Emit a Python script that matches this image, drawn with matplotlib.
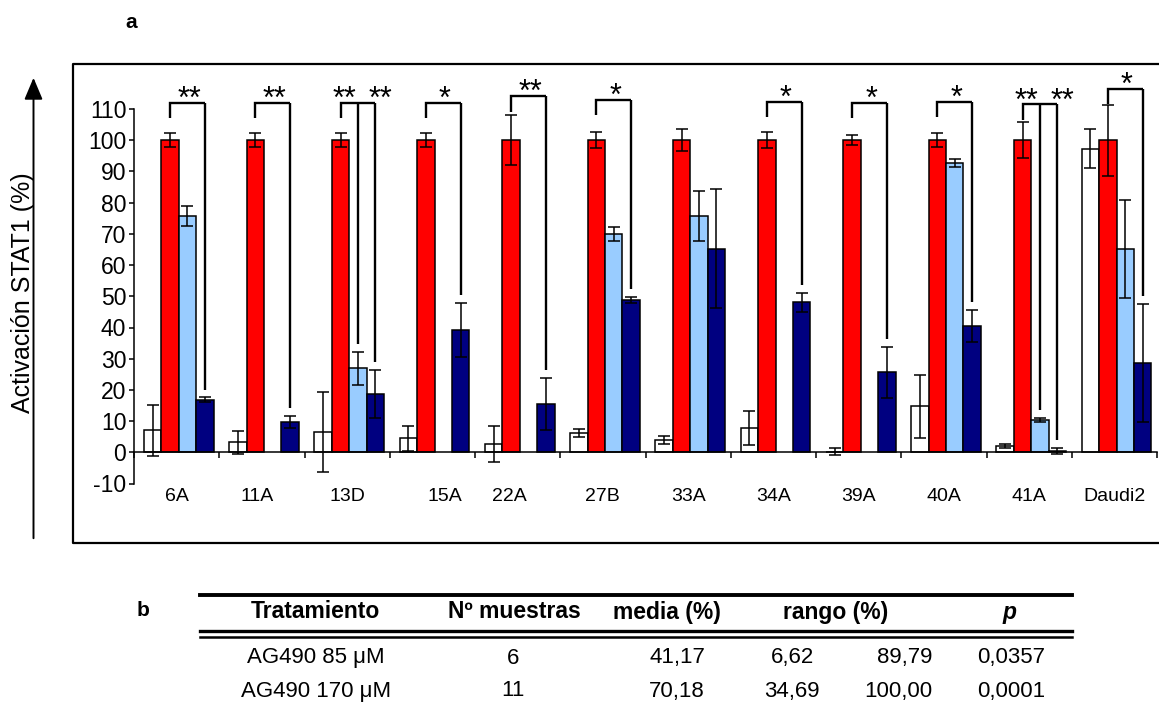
import matplotlib
matplotlib.use('Agg')
import matplotlib.pyplot as plt
import numpy as np
from matplotlib.lines import Line2D
from matplotlib.patches import FancyArrowPatch
from matplotlib import font_manager

plt.rcParams['font.family'] = ['Liberation Sans', 'DejaVu Sans']
plt.rcParams['axes.unicode_minus'] = False

_installed = {f.name for f in font_manager.fontManager.ttflist}
NARROW = 'Liberation Sans Narrow' if 'Liberation Sans Narrow' in _installed else None

# ---------------- data ----------------
categories = ['6A', '11A', '13D', '15A', '22A', '27B', '33A', '34A', '39A', '40A', '41A', 'Daudi2']
control = [7.0, 3.2, 6.5, 4.5, 2.6, 6.3, 4.0, 7.7, 0.2, 14.7, 2.0, 97.3]
control_err = [8.3, 3.6, 12.8, 4.0, 5.8, 1.3, 1.3, 5.5, 1.1, 10.0, 0.6, 6.2]
ifn = [100, 100, 100, 100, 100, 100, 100, 100, 100, 100, 100, 100]
ifn_err = [2.3, 2.3, 2.3, 2.3, 8.0, 2.5, 3.5, 2.5, 1.6, 2.3, 5.8, 11.4]
ag85 = [75.7, None, 26.9, None, None, 69.9, 75.7, None, None, 92.8, 10.4, 65.2]
ag85_err = [3.1, None, 5.4, None, None, 2.2, 8.0, None, None, 1.3, 0.7, 15.8]
ag170 = [16.8, 9.8, 18.7, 39.2, 15.5, 48.8, 65.3, 48.1, 25.6, 40.4, 0.4, 28.7]
ag170_err = [0.8, 1.9, 7.6, 8.6, 8.3, 0.9, 19.2, 3.0, 8.1, 5.2, 0.9, 18.9]

# significance brackets: (group index, target series list, bracket height, label)
brackets = [
    (0, [3], 112.0, '**'),
    (1, [3], 112.0, '**'),
    (2, [2, 3], 112.0, '**'),
    (3, [3], 112.0, '*'),
    (4, [3], 114.2, '**'),
    (5, [3], 113.0, '*'),
    (7, [3], 112.4, '*'),
    (8, [3], 112.0, '*'),
    (9, [3], 112.4, '*'),
    (10, [2, 3], 111.5, '**'),
    (11, [3], 116.5, '*'),
]

table_header = ['Tratamiento', 'Nº muestras', 'media (%)', 'rango (%)', 'p']
table_rows = [
    ['AG490 85 μM', '6', '41,17', '6,62', '89,79', '0,0357'],
    ['AG490 170 μM', '11', '70,18', '34,69', '100,00', '0,0001'],
]

series = [(control, control_err), (ifn, ifn_err), (ag85, ag85_err), (ag170, ag170_err)]
colors = ['white', '#FF0000', '#99CCFF', '#000080']

# ---------------- figure ----------------
W, H = 1159, 708
fig = plt.figure(figsize=(W / 100, H / 100), dpi=100)

def fx(x):
    return x / W

def fy(y):
    return 1 - y / H

ax = fig.add_axes([fx(134), fy(483.5), fx(1157) - fx(134), fy(77.9) - fy(483.5)])
ax.set_xlim(-0.5, len(categories) - 0.5)
ax.set_ylim(-10, 120)

w = 0.205
shift = 0.025
ngroups = len(categories)

def bar_x(i, k):
    return i + shift + (k - 1.5) * w

for k, (vals, errs) in enumerate(series):
    xs, ys, es = [], [], []
    for i in range(ngroups):
        if vals[i] is None:
            continue
        xs.append(bar_x(i, k))
        ys.append(vals[i])
        es.append(errs[i])
    ax.bar(xs, ys, width=w, color=colors[k], edgecolor='black', linewidth=1.1, zorder=2)
    ax.errorbar(xs, ys, yerr=es, fmt='none', ecolor='black', elinewidth=1.1,
                capsize=4.5, capthick=1.1, zorder=3)

def err_top(i, k):
    vals, errs = series[k]
    return vals[i] + errs[i]

lw_b = 1.7
star_fs = 22
star_dy = -1.6
for (i, targets, by, lab) in brackets:
    xl = bar_x(i, 1)
    xr = bar_x(i, targets[-1])
    ax.plot([xl, xl, xr], [by - 5, by, by], color='black', lw=lw_b, zorder=4,
            solid_joinstyle='miter', solid_capstyle='butt', clip_on=False)
    for t in targets:
        xt = bar_x(i, t)
        ax.plot([xt, xt], [by, err_top(i, t) + 2.5], color='black', lw=lw_b, zorder=4,
                solid_capstyle='butt', clip_on=False)
    if len(targets) == 1:
        ax.text((xl + xr) / 2 + 0.02, by + star_dy, lab, ha='center', va='baseline', fontsize=star_fs)
    else:
        ax.text(xl + 0.2 * w, by + star_dy, lab, ha='center', va='baseline', fontsize=star_fs)
        ax.text(xr + 0.3 * w, by + star_dy, lab, ha='center', va='baseline', fontsize=star_fs)

# axes styling
for s in ['top', 'right']:
    ax.spines[s].set_visible(False)
ax.spines['left'].set_bounds(-10, 110)
ax.spines['left'].set_linewidth(1.1)
ax.spines['bottom'].set_position(('data', 0))
ax.spines['bottom'].set_linewidth(1.1)
ax.set_yticks(np.arange(-10, 111, 10))
ax.tick_params(axis='y', direction='out', length=3.5, width=1.1, pad=2)
for lbl in ax.get_yticklabels():
    if NARROW:
        lbl.set_fontfamily([NARROW, 'Liberation Sans'])
        lbl.set_fontsize(17.5)
    else:
        lbl.set_fontsize(16.5)
ax.set_xticks(np.arange(ngroups + 1) - 0.5)
ax.set_xticklabels([])
ax.tick_params(axis='x', direction='out', length=4.5, width=1.1)
label_nudge = {3: 0.15, 4: -0.1, 1: -0.05}
for i, c in enumerate(categories):
    ax.text(i + label_nudge.get(i, 0.0), -14.3, c, ha='center', va='center', fontsize=14)

# outer frame
frame = Line2D([fx(1162), fx(73), fx(73), fx(1162)], [fy(64), fy(64), fy(543), fy(543)],
               transform=fig.transFigure, color='black', lw=1.6)
fig.add_artist(frame)

# y axis arrow and label
arr = FancyArrowPatch((fx(33.5), fy(541)), (fx(33.5), fy(75)), transform=fig.transFigure,
                      arrowstyle='-|>,head_length=0.95,head_width=0.4', mutation_scale=14,
                      color='black', lw=1.4)
fig.add_artist(arr)
fig.text(fx(23), fy(293), 'Activación STAT1 (%)', rotation=90, ha='center', va='center',
         fontsize=18)

fig.text(fx(131), fy(22), 'a', ha='center', va='center', fontsize=15, fontweight='bold')

# ---------------- table b ----------------
fig.text(fx(143), fy(611), 'b', ha='center', va='center', fontsize=15, fontweight='bold')
fig.add_artist(Line2D([fx(200), fx(1072)], [fy(594.5), fy(594.5)], transform=fig.transFigure,
                      color='black', lw=2.8))
fig.add_artist(Line2D([fx(200), fx(1072)], [fy(631), fy(631)], transform=fig.transFigure,
                      color='black', lw=2.4))
fig.add_artist(Line2D([fx(200), fx(1072)], [fy(637), fy(637)], transform=fig.transFigure,
                      color='black', lw=1.8))

header_x = [315, 514, 667, 836, 1010]
for j, (hx, txt) in enumerate(zip(header_x, table_header)):
    style = 'italic' if j == 4 else 'normal'
    fig.text(fx(hx), fy(612), txt, ha='center', va='center', fontsize=16.5,
             fontweight='bold', fontstyle=style)

col_x = [316, 513, 705, 792, 932, 1011]
col_ha = ['center', 'center', 'right', 'center', 'right', 'center']
row_y = [658, 691]
for r, row in enumerate(table_rows):
    for j, txt in enumerate(row):
        fig.text(fx(col_x[j]), fy(row_y[r]), txt, ha=col_ha[j], va='center', fontsize=16)

fig.savefig('out.png', dpi=100)
